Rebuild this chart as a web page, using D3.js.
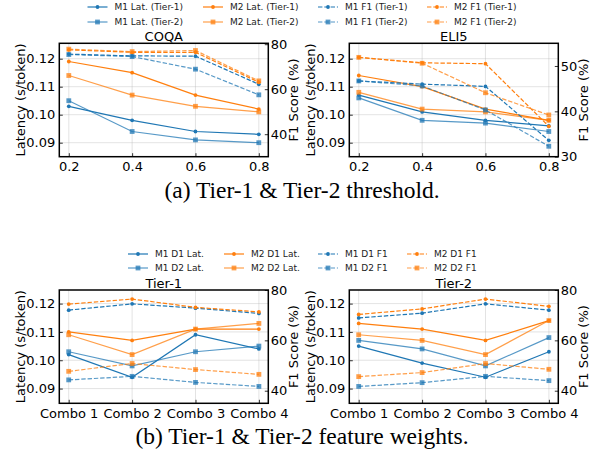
<!DOCTYPE html>
<html>
<head>
<meta charset="utf-8">
<script src="https://cdn.jsdelivr.net/npm/d3@7"></script>
<style>
  body { margin: 0; background: #fff; }
  svg text { font-family: "DejaVu Sans", sans-serif; }
</style>
</head>
<body>
<div id="chart"></div>
<script>
// x values
var thresholds = [0.2, 0.4, 0.6, 0.8];
var combos = ["Combo 1", "Combo 2", "Combo 3", "Combo 4"];

// (a) COQA
var coqaM1LatT1 = [0.103, 0.098, 0.094, 0.093];
var coqaM1LatT2 = [0.105, 0.094, 0.091, 0.090];
var coqaM2LatT1 = [0.119, 0.115, 0.107, 0.102];
var coqaM2LatT2 = [0.114, 0.107, 0.103, 0.101];
var coqaM1F1T1 = [75.6, 74.8, 74.7, 62.2];
var coqaM1F1T2 = [75.4, 74.5, 68.9, 57.5];
var coqaM2F1T1 = [77.5, 76.4, 76.4, 63.1];
var coqaM2F1T2 = [77.8, 76.7, 77.2, 63.7];

// (a) ELI5
var eli5M1LatT1 = [0.107, 0.101, 0.098, 0.096];
var eli5M1LatT2 = [0.106, 0.098, 0.097, 0.094];
var eli5M2LatT1 = [0.114, 0.110, 0.102, 0.098];
var eli5M2LatT2 = [0.108, 0.102, 0.101, 0.098];
var eli5M1F1T1 = [46.7, 46.0, 45.5, 33.6];
var eli5M1F1T2 = [46.7, 45.6, 40.3, 32.3];
var eli5M2F1T1 = [51.9, 50.7, 50.5, 36.7];
var eli5M2F1T2 = [51.9, 50.6, 44.1, 39.2];

// (b) Tier-1 feature weights
var t1M1D1Lat = [0.102, 0.094, 0.109, 0.104];
var t1M1D2Lat = [0.103, 0.098, 0.103, 0.105];
var t1M2D1Lat = [0.110, 0.107, 0.111, 0.111];
var t1M2D2Lat = [0.109, 0.102, 0.111, 0.113];
var t1M1D1F1 = [72.0, 74.5, 72.8, 70.7];
var t1M1D2F1 = [44.3, 45.7, 43.3, 41.7];
var t1M2D1F1 = [74.4, 76.4, 73.1, 71.3];
var t1M2D2F1 = [47.7, 50.8, 48.4, 46.5];

// (b) Tier-2 feature weights
var t2M1D1Lat = [0.105, 0.099, 0.094, 0.103];
var t2M1D2Lat = [0.107, 0.104, 0.098, 0.108];
var t2M2D1Lat = [0.113, 0.111, 0.107, 0.114];
var t2M2D2Lat = [0.109, 0.107, 0.102, 0.114];
var t2M1D1F1 = [68.9, 70.8, 74.5, 72.0];
var t2M1D2F1 = [41.7, 43.2, 45.7, 44.0];
var t2M2D1F1 = [70.3, 72.5, 76.4, 73.5];
var t2M2D2F1 = [45.6, 47.2, 50.8, 48.5];

var latTicks = [0.09, 0.10, 0.11, 0.12];
var f1TicksCoqa = [40, 60, 80];
var f1TicksEli5 = [30, 40, 50];
var f1TicksWeights = [40, 60, 80];

var topLegend = ["M1 Lat. (Tier-1)", "M1 Lat. (Tier-2)", "M2 Lat. (Tier-1)", "M2 Lat. (Tier-2)",
                 "M1 F1 (Tier-1)", "M1 F1 (Tier-2)", "M2 F1 (Tier-1)", "M2 F1 (Tier-2)"];
var botLegend = ["M1 D1 Lat.", "M1 D2 Lat.", "M2 D1 Lat.", "M2 D2 Lat.",
                 "M1 D1 F1", "M1 D2 F1", "M2 D1 F1", "M2 D2 F1"];

var blue = "#1f77b4", orange = "#ff7f0e";
// style for the 8 series in order: M1 L1, M1 L2, M2 L1, M2 L2, M1 F1, M1 F2, M2 F1, M2 F2
var styles = [
  {c: blue, dash: false, sq: false, a: 1}, {c: blue, dash: false, sq: true, a: 0.75},
  {c: orange, dash: false, sq: false, a: 1}, {c: orange, dash: false, sq: true, a: 0.75},
  {c: blue, dash: true, sq: false, a: 1}, {c: blue, dash: true, sq: true, a: 0.75},
  {c: orange, dash: true, sq: false, a: 1}, {c: orange, dash: true, sq: true, a: 0.75}
];

var W = 597, H = 452;
var svg = d3.select("#chart").append("svg").attr("width", W).attr("height", H);

function marker(g, x, y, st) {
  if (st.sq) {
    g.append("rect").attr("x", x - 2.4).attr("y", y - 2.4).attr("width", 4.8).attr("height", 4.8)
      .attr("fill", st.c).attr("opacity", st.a);
  } else {
    g.append("circle").attr("cx", x).attr("cy", y).attr("r", 1.9).attr("fill", st.c);
  }
}

function panel(o) {
  var g = svg.append("g");
  var x = o.cat
    ? d3.scalePoint().domain(o.xs).range([o.x0 + 9.4, o.x1 - 9.4])
    : d3.scaleLinear().domain([0.17, 0.83]).range([o.x0, o.x1]);
  var yL = d3.scaleLinear().domain(o.yl).range([o.y1, o.y0]);
  var yR = d3.scaleLinear().domain(o.yr).range([o.y1, o.y0]);

  // grid
  g.selectAll(".gx").data(o.xs).enter().append("line")
    .attr("x1", d => x(d)).attr("x2", d => x(d)).attr("y1", o.y0).attr("y2", o.y1)
    .attr("stroke", "#b0b0b0").attr("stroke-opacity", 0.45).attr("stroke-width", 0.8);
  g.selectAll(".gy").data(latTicks).enter().append("line")
    .attr("x1", o.x0).attr("x2", o.x1).attr("y1", d => yL(d)).attr("y2", d => yL(d))
    .attr("stroke", "#b0b0b0").attr("stroke-opacity", 0.45).attr("stroke-width", 0.8);

  var line = d3.line();
  o.series.forEach(function(vals, i) {
    var st = styles[i];
    var ys = i < 4 ? yL : yR;
    var pts = vals.map((v, j) => [x(o.xs[j]), ys(v)]);
    g.append("path").attr("d", line(pts)).attr("fill", "none")
      .attr("stroke", st.c).attr("stroke-width", 1.2).attr("stroke-opacity", st.a)
      .attr("stroke-dasharray", st.dash ? "4.4,1.9" : null);
    pts.forEach(p => marker(g, p[0], p[1], st));
  });

  // axes
  var ax = g.append("g").attr("transform", "translate(0," + o.y1 + ")")
    .call(o.cat ? d3.axisBottom(x).tickSizeInner(-3.5).tickSizeOuter(0).tickPadding(5)
                : d3.axisBottom(x).tickValues(o.xs).tickFormat(d3.format(".1f")).tickSizeInner(-3.5).tickSizeOuter(0).tickPadding(5));
  var al = g.append("g").attr("transform", "translate(" + o.x0 + ",0)")
    .call(d3.axisLeft(yL).tickValues(latTicks).tickFormat(d3.format(".2f")).tickSizeInner(-3.5).tickSizeOuter(0).tickPadding(4));
  var ar = g.append("g").attr("transform", "translate(" + o.x1 + ",0)")
    .call(d3.axisRight(yR).tickValues(o.rt).tickSizeInner(-3.5).tickSizeOuter(0).tickPadding(2.5));
  [ax, al, ar].forEach(function(a) {
    a.select(".domain").remove();
    a.selectAll("text").attr("font-size", 13).attr("fill", "#000").attr("font-family", "DejaVu Sans");
    a.selectAll("line").attr("stroke", "#000").attr("stroke-width", 0.8);
  });

  g.append("rect").attr("x", o.x0).attr("y", o.y0).attr("width", o.x1 - o.x0).attr("height", o.y1 - o.y0)
    .attr("fill", "none").attr("stroke", "#000").attr("stroke-width", 1.5);

  g.append("text").attr("x", (o.x0 + o.x1) / 2).attr("y", o.y0 - 2).attr("text-anchor", "middle")
    .attr("font-size", 13).text(o.title);
  var cy = (o.y0 + o.y1) / 2;
  g.append("text").attr("transform", "translate(" + (o.x0 - 39) + "," + cy + ") rotate(-90)")
    .attr("text-anchor", "middle").attr("dominant-baseline", "central").attr("font-size", 13).text("Latency (s/token)");
  g.append("text").attr("transform", "translate(" + (o.x1 + 25) + "," + cy + ") rotate(-90)")
    .attr("text-anchor", "middle").attr("dominant-baseline", "central").attr("font-size", 13).text("F1 Score (%)");
}

function legend(labels, cols, rows) {
  var g = svg.append("g");
  labels.forEach(function(lab, i) {
    var st = styles[i];
    var cx = cols[Math.floor(i / 2)], cy = rows[i % 2];
    g.append("line").attr("x1", cx).attr("x2", cx + 20).attr("y1", cy).attr("y2", cy)
      .attr("stroke", st.c).attr("stroke-width", 1.2).attr("stroke-opacity", st.a)
      .attr("stroke-dasharray", st.dash ? "4.4,1.9" : null);
    marker(g, cx + 10, cy, st);
    g.append("text").attr("x", cx + 27).attr("y", cy).attr("dy", "0.35em")
      .attr("font-size", 9).attr("fill", "#222").text(lab);
  });
}

var X0 = 59.3, X1 = 268.3, X2 = 349.3, X3 = 558.3;

panel({x0: X0, x1: X1, y0: 43.3, y1: 156.7, xs: thresholds, cat: false, yl: [0.085, 0.1255], yr: [30, 80.4], rt: f1TicksCoqa,
  title: "COQA", series: [coqaM1LatT1, coqaM1LatT2, coqaM2LatT1, coqaM2LatT2, coqaM1F1T1, coqaM1F1T2, coqaM2F1T1, coqaM2F1T2]});
panel({x0: X2, x1: X3, y0: 43.3, y1: 156.7, xs: thresholds, cat: false, yl: [0.085, 0.1255], yr: [30, 55], rt: f1TicksEli5,
  title: "ELI5", series: [eli5M1LatT1, eli5M1LatT2, eli5M2LatT1, eli5M2LatT2, eli5M1F1T1, eli5M1F1T2, eli5M2F1T1, eli5M2F1T2]});
panel({x0: X0, x1: X1, y0: 290, y1: 403.3, xs: combos, cat: true, yl: [0.0848, 0.1248], yr: [35, 80], rt: f1TicksWeights,
  title: "Tier-1", series: [t1M1D1Lat, t1M1D2Lat, t1M2D1Lat, t1M2D2Lat, t1M1D1F1, t1M1D2F1, t1M2D1F1, t1M2D2F1]});
panel({x0: X2, x1: X3, y0: 290, y1: 403.3, xs: combos, cat: true, yl: [0.0848, 0.1248], yr: [35, 80], rt: f1TicksWeights,
  title: "Tier-2", series: [t2M1D1Lat, t2M1D2Lat, t2M2D1Lat, t2M2D2Lat, t2M1D1F1, t2M1D2F1, t2M2D1F1, t2M2D2F1]});

legend(topLegend, [87.5, 203, 318, 427], [7, 22]);
legend(botLegend, [128, 224, 318, 407], [254, 268]);

svg.append("text").attr("x", 302).attr("y", 198).attr("text-anchor", "middle")
  .style("font-family", "'Liberation Serif', serif").attr("font-size", 23.5).text("(a) Tier-1 & Tier-2 threshold.");
svg.append("text").attr("x", 302).attr("y", 444).attr("text-anchor", "middle")
  .style("font-family", "'Liberation Serif', serif").attr("font-size", 23.5).text("(b) Tier-1 & Tier-2 feature weights.");
</script>
</body>
</html>
